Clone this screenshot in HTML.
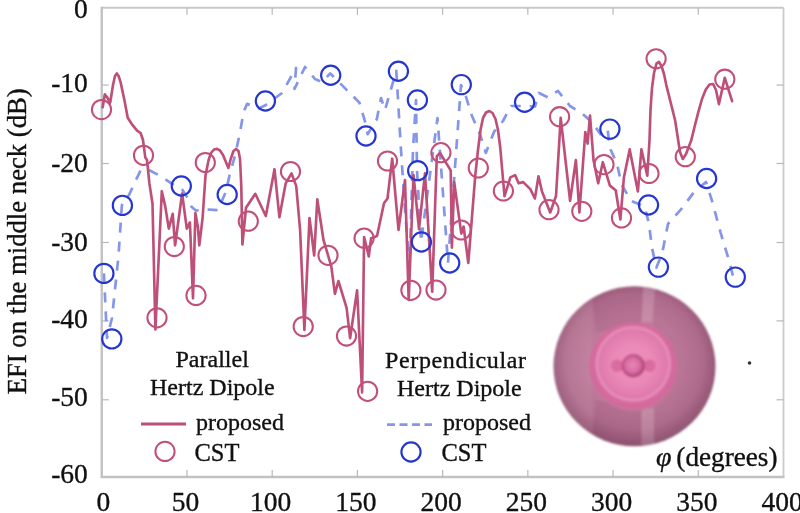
<!DOCTYPE html>
<html><head><meta charset="utf-8"><style>
html,body{margin:0;padding:0;background:#fff;}
svg{display:block;filter:blur(0.6px);}
text{stroke:#111;stroke-width:0.35px;}
</style></head><body>
<svg width="800" height="513" viewBox="0 0 800 513">
<rect width="800" height="513" fill="#fff"/>

<defs>
<radialGradient id="gOuter" cx="0.5" cy="0.47" r="0.53">
  <stop offset="0" stop-color="#c9809f"/>
  <stop offset="0.55" stop-color="#be7a99"/>
  <stop offset="0.8" stop-color="#b26f8f"/>
  <stop offset="0.92" stop-color="#9e5e7d"/>
  <stop offset="1" stop-color="#8f5a74"/>
</radialGradient>
<radialGradient id="gInner" cx="0.5" cy="0.47" r="0.52">
  <stop offset="0" stop-color="#f094c0"/>
  <stop offset="0.45" stop-color="#ea88b6"/>
  <stop offset="0.75" stop-color="#df7aac"/>
  <stop offset="0.8" stop-color="#e995bd"/>
  <stop offset="0.84" stop-color="#d76b9f"/>
  <stop offset="0.97" stop-color="#d06a9b"/>
  <stop offset="1" stop-color="#c9779e"/>
</radialGradient>
<radialGradient id="gBall" cx="0.47" cy="0.47" r="0.53">
  <stop offset="0" stop-color="#e886b4"/>
  <stop offset="0.55" stop-color="#d96fa2"/>
  <stop offset="0.85" stop-color="#bd4d83"/>
  <stop offset="1" stop-color="#ad4578"/>
</radialGradient>
<clipPath id="cpS"><ellipse cx="634.5" cy="366.3" rx="81" ry="80"/></clipPath>
<filter id="blur1" x="-10%" y="-10%" width="120%" height="120%"><feGaussianBlur stdDeviation="1.2"/></filter>
</defs>
<g filter="url(#blur1)">
<ellipse cx="634.5" cy="366.3" rx="81" ry="80" fill="url(#gOuter)"/>
<g clip-path="url(#cpS)">
<rect x="550" y="280" width="42" height="175" fill="#ffffff" opacity="0.05"/>
<path d="M591,280 L643.5,280 L641.5,322 L596,333 Z" fill="#6a2a4a" opacity="0.10"/>
<path d="M596,400 L641.5,410 L641.5,450 L592.5,450 Z" fill="#6a2a4a" opacity="0.10"/>
<path d="M643.5,280 L656,280 L652,322 L641.5,322 Z" fill="#ffffff" opacity="0.14"/>
<path d="M641.5,410 L654,408 L654,450 L641.5,450 Z" fill="#ffffff" opacity="0.14"/>
<rect x="654" y="280" width="70" height="175" fill="#6a2a4a" opacity="0.05"/>
</g>
<circle cx="633.2" cy="366.5" r="44" fill="url(#gInner)"/>
<circle cx="617.2" cy="365.8" r="6.3" fill="#db6ca1"/>
<circle cx="649.4" cy="365.8" r="6.3" fill="#db6ca1"/>
<circle cx="633.3" cy="365.8" r="11.7" fill="url(#gBall)"/>
</g>
<circle cx="749.5" cy="363" r="1.8" fill="#333"/>

<line x1="101.75" y1="7.8" x2="783.5" y2="7.8" stroke="#c8c8c8" stroke-width="2"/>
<line x1="783.5" y1="7.8" x2="783.5" y2="477.0" stroke="#cccccc" stroke-width="1.8"/>
<line x1="101.75" y1="6.8" x2="101.75" y2="478.0" stroke="#c2c2c2" stroke-width="2.4"/>
<line x1="100.75" y1="477.0" x2="784.5" y2="477.0" stroke="#c2c2c2" stroke-width="2.4"/>
<line x1="186.97" y1="477.0" x2="186.97" y2="470.0" stroke="#b8b8b8" stroke-width="1.2"/>
<line x1="186.97" y1="7.8" x2="186.97" y2="14.8" stroke="#b8b8b8" stroke-width="1.2"/>
<line x1="272.19" y1="477.0" x2="272.19" y2="470.0" stroke="#b8b8b8" stroke-width="1.2"/>
<line x1="272.19" y1="7.8" x2="272.19" y2="14.8" stroke="#b8b8b8" stroke-width="1.2"/>
<line x1="357.41" y1="477.0" x2="357.41" y2="470.0" stroke="#b8b8b8" stroke-width="1.2"/>
<line x1="357.41" y1="7.8" x2="357.41" y2="14.8" stroke="#b8b8b8" stroke-width="1.2"/>
<line x1="442.62" y1="477.0" x2="442.62" y2="470.0" stroke="#b8b8b8" stroke-width="1.2"/>
<line x1="442.62" y1="7.8" x2="442.62" y2="14.8" stroke="#b8b8b8" stroke-width="1.2"/>
<line x1="527.84" y1="477.0" x2="527.84" y2="470.0" stroke="#b8b8b8" stroke-width="1.2"/>
<line x1="527.84" y1="7.8" x2="527.84" y2="14.8" stroke="#b8b8b8" stroke-width="1.2"/>
<line x1="613.06" y1="477.0" x2="613.06" y2="470.0" stroke="#b8b8b8" stroke-width="1.2"/>
<line x1="613.06" y1="7.8" x2="613.06" y2="14.8" stroke="#b8b8b8" stroke-width="1.2"/>
<line x1="698.28" y1="477.0" x2="698.28" y2="470.0" stroke="#b8b8b8" stroke-width="1.2"/>
<line x1="698.28" y1="7.8" x2="698.28" y2="14.8" stroke="#b8b8b8" stroke-width="1.2"/>
<line x1="101.75" y1="85.06" x2="108.75" y2="85.06" stroke="#b8b8b8" stroke-width="1.2"/>
<line x1="783.5" y1="85.06" x2="776.5" y2="85.06" stroke="#b8b8b8" stroke-width="1.2"/>
<line x1="101.75" y1="163.50" x2="108.75" y2="163.50" stroke="#b8b8b8" stroke-width="1.2"/>
<line x1="783.5" y1="163.50" x2="776.5" y2="163.50" stroke="#b8b8b8" stroke-width="1.2"/>
<line x1="101.75" y1="242.50" x2="108.75" y2="242.50" stroke="#b8b8b8" stroke-width="1.2"/>
<line x1="783.5" y1="242.50" x2="776.5" y2="242.50" stroke="#b8b8b8" stroke-width="1.2"/>
<line x1="101.75" y1="320.90" x2="108.75" y2="320.90" stroke="#b8b8b8" stroke-width="1.2"/>
<line x1="783.5" y1="320.90" x2="776.5" y2="320.90" stroke="#b8b8b8" stroke-width="1.2"/>
<line x1="101.75" y1="399.80" x2="108.75" y2="399.80" stroke="#b8b8b8" stroke-width="1.2"/>
<line x1="783.5" y1="399.80" x2="776.5" y2="399.80" stroke="#b8b8b8" stroke-width="1.2"/>
<text x="87.8" y="18.1" font-family="Liberation Serif" font-size="27.5" text-anchor="end" fill="#111">0</text>
<text x="87.8" y="91.8" font-family="Liberation Serif" font-size="27.5" text-anchor="end" fill="#111">-10</text>
<text x="87.8" y="171.5" font-family="Liberation Serif" font-size="27.5" text-anchor="end" fill="#111">-20</text>
<text x="87.8" y="251.4" font-family="Liberation Serif" font-size="27.5" text-anchor="end" fill="#111">-30</text>
<text x="87.8" y="328.1" font-family="Liberation Serif" font-size="27.5" text-anchor="end" fill="#111">-40</text>
<text x="87.8" y="406.1" font-family="Liberation Serif" font-size="27.5" text-anchor="end" fill="#111">-50</text>
<text x="87.8" y="483.3" font-family="Liberation Serif" font-size="27.5" text-anchor="end" fill="#111">-60</text>
<text x="103.25" y="510.8" font-family="Liberation Serif" font-size="27.5" text-anchor="middle" fill="#111">0</text>
<text x="185.47" y="510.8" font-family="Liberation Serif" font-size="27.5" text-anchor="middle" fill="#111">50</text>
<text x="270.69" y="510.8" font-family="Liberation Serif" font-size="27.5" text-anchor="middle" fill="#111">100</text>
<text x="355.91" y="510.8" font-family="Liberation Serif" font-size="27.5" text-anchor="middle" fill="#111">150</text>
<text x="441.12" y="510.8" font-family="Liberation Serif" font-size="27.5" text-anchor="middle" fill="#111">200</text>
<text x="526.34" y="510.8" font-family="Liberation Serif" font-size="27.5" text-anchor="middle" fill="#111">250</text>
<text x="611.56" y="510.8" font-family="Liberation Serif" font-size="27.5" text-anchor="middle" fill="#111">300</text>
<text x="696.78" y="510.8" font-family="Liberation Serif" font-size="27.5" text-anchor="middle" fill="#111">350</text>
<text x="782.00" y="510.8" font-family="Liberation Serif" font-size="27.5" text-anchor="middle" fill="#111">400</text>
<text transform="translate(25.5,241.3) rotate(-90)" font-family="Liberation Serif" font-size="26.7" text-anchor="middle" fill="#111">EFI on the middle neck (dB)</text>
<text x="656" y="466.3" font-family="Liberation Serif" font-size="28" font-style="italic" fill="#111">φ</text>
<text x="777.5" y="466.3" font-family="Liberation Serif" font-size="27.2" text-anchor="end" fill="#111">(degrees)</text>

<filter id="cb" x="-5%" y="-5%" width="110%" height="110%"><feGaussianBlur stdDeviation="0.4"/></filter>
<g filter="url(#cb)">
<polyline points="103.9,273.4 107.0,338.0 112.0,318.0 118.4,257.0 121.9,205.0 129.0,195.0 135.0,182.0 140.5,170.5 142.5,169.3 147.6,169.3 161.0,176.3 172.2,183.9 182.1,189.6 188.3,199.0 191.5,206.8 196.1,210.7 202.4,209.1 213.3,209.9 217.9,210.2 226.0,191.5 229.6,175.0 235.4,154.0 240.1,131.9 243.6,112.0 247.1,103.8 258.8,108.5 265.8,105.0 282.0,93.0 296.0,68.0 294.5,89.0 305.0,67.0 315.0,79.0 322.0,82.0 330.2,73.4 345.4,88.6 359.4,102.6 365.3,122.5 367.6,134.2 376.8,119.3 381.0,98.0 385.0,110.0 396.3,70.9 401.0,150.0 405.0,210.0 409.5,268.0 413.0,150.0 416.0,100.0 417.0,170.0 421.0,242.0 437.5,118.0 448.0,263.0 461.0,85.0 466.0,96.8 471.8,115.5 480.0,134.2 485.8,152.9 494.0,131.9 503.0,121.0 511.0,106.0 525.0,106.0 535.0,106.5 539.0,93.0 548.0,97.5 551.0,95.0 558.0,91.0 570.0,106.0 581.8,113.2 592.3,122.5 600.5,134.2 607.5,128.4 609.9,148.2 616.9,163.4 621.5,184.4 630.9,200.8 644.6,206.3 649.0,223.9 651.9,247.3 656.3,267.7 662.2,253.1 668.0,223.9 681.2,209.2 694.3,191.7 706.0,182.0 711.9,200.5 720.6,232.6 729.4,261.9 733.8,279.4" fill="none" stroke="#8596e8" stroke-width="2.7" stroke-dasharray="10,9" stroke-linejoin="round"/>
<polyline points="102.7,107.3 104.8,94.4 107.0,97.0 110.2,102.6 113.0,85.0 115.0,76.0 116.8,73.4 118.6,76.0 120.7,82.7 124.2,99.1 127.7,117.8 132.4,124.9 137.1,130.7 140.6,133.0 143.0,140.0 145.3,157.6 147.0,160.0 149.4,183.4 152.5,203.7 155.4,329.5 161.8,191.2 165.2,206.1 168.8,228.6 172.7,213.8 175.1,245.3 182.1,193.5 186.8,228.6 189.9,222.4 193.0,298.3 195.4,213.0 197.9,227.2 199.3,245.3 202.6,217.8 205.5,175.6 208.6,160.0 211.0,153.0 214.0,149.5 217.0,148.9 220.0,150.5 223.0,155.0 228.4,168.0 231.0,158.0 233.5,151.0 236.0,149.0 238.5,151.0 240.0,158.7 241.3,186.8 242.4,244.5 246.0,207.8 255.3,193.8 265.8,216.0 274.5,169.2 279.4,217.2 285.7,183.3 291.5,173.4 296.2,185.9 300.1,230.0 304.4,330.0 309.5,218.0 314.2,255.5 317.3,199.4 323.5,240.0 331.3,266.4 334.9,293.8 338.4,281.0 346.6,307.8 350.1,338.2 357.1,290.3 362.1,392.4 364.1,237.0 368.8,256.4 371.1,238.2 377.0,236.0 384.0,203.2 387.5,198.5 392.2,158.7 398.5,230.0 405.0,180.0 408.7,300.0 413.5,175.0 419.0,229.0 425.0,173.4 432.2,291.6 436.8,156.2 440.0,153.0 450.7,170.4 451.9,247.6 454.2,182.1 461.3,233.6 463.6,226.5 468.3,263.0 475.3,175.1 478.0,150.0 480.5,130.0 483.0,118.0 486.0,112.5 489.3,111.0 492.5,113.0 495.5,119.0 498.0,130.0 500.3,148.0 502.2,170.0 504.5,196.1 510.4,177.4 515.1,175.1 518.6,183.3 523.2,182.1 530.3,189.1 534.9,198.5 538.5,176.3 542.0,191.5 550.2,212.5 556.0,196.0 560.7,117.8 566.6,170.0 570.1,200.8 575.9,160.0 579.4,212.5 585.3,132.0 587.6,143.6 590.0,115.5 593.5,160.0 598.2,183.3 602.8,162.2 609.9,185.6 615.7,190.3 620.4,219.5 623.9,177.4 629.7,149.4 637.9,191.5 641.4,149.4 647.3,175.7 649.5,140.0 650.5,110.0 652.0,88.0 654.0,73.0 656.5,63.5 659.0,62.0 661.5,66.0 664.0,74.0 666.3,85.1 675.1,120.2 680.0,152.0 682.8,159.0 686.0,154.0 691.2,140.6 695.0,125.0 698.5,111.4 702.0,99.0 705.8,89.5 709.5,84.5 713.1,84.0 716.0,90.0 718.9,104.1 724.8,77.8 732.1,101.2" fill="none" stroke="#bd5078" stroke-width="2.65" stroke-linejoin="round" stroke-linecap="round"/>
<circle cx="101.5" cy="109.6" r="9.6" fill="none" stroke="#c2507a" stroke-width="2.05"/>
<circle cx="143.5" cy="155.3" r="9.6" fill="none" stroke="#c2507a" stroke-width="2.05"/>
<circle cx="174.3" cy="246.5" r="9.6" fill="none" stroke="#c2507a" stroke-width="2.05"/>
<circle cx="157" cy="317.8" r="9.6" fill="none" stroke="#c2507a" stroke-width="2.05"/>
<circle cx="196" cy="295.4" r="9.6" fill="none" stroke="#c2507a" stroke-width="2.05"/>
<circle cx="205.3" cy="162.5" r="9.6" fill="none" stroke="#c2507a" stroke-width="2.05"/>
<circle cx="248.3" cy="221.2" r="9.6" fill="none" stroke="#c2507a" stroke-width="2.05"/>
<circle cx="290.5" cy="171.5" r="9.6" fill="none" stroke="#c2507a" stroke-width="2.05"/>
<circle cx="303.2" cy="326.5" r="9.6" fill="none" stroke="#c2507a" stroke-width="2.05"/>
<circle cx="328" cy="255.3" r="9.6" fill="none" stroke="#c2507a" stroke-width="2.05"/>
<circle cx="346.5" cy="336" r="9.6" fill="none" stroke="#c2507a" stroke-width="2.05"/>
<circle cx="367.6" cy="391.3" r="9.6" fill="none" stroke="#c2507a" stroke-width="2.05"/>
<circle cx="364.1" cy="238.2" r="9.6" fill="none" stroke="#c2507a" stroke-width="2.05"/>
<circle cx="387.5" cy="161" r="9.6" fill="none" stroke="#c2507a" stroke-width="2.05"/>
<circle cx="410.9" cy="290.3" r="9.6" fill="none" stroke="#c2507a" stroke-width="2.05"/>
<circle cx="436" cy="290" r="9.6" fill="none" stroke="#c2507a" stroke-width="2.05"/>
<circle cx="440.9" cy="152.7" r="9.6" fill="none" stroke="#c2507a" stroke-width="2.05"/>
<circle cx="461.2" cy="230" r="9.6" fill="none" stroke="#c2507a" stroke-width="2.05"/>
<circle cx="478.3" cy="168" r="9.6" fill="none" stroke="#c2507a" stroke-width="2.05"/>
<circle cx="503.4" cy="191" r="9.6" fill="none" stroke="#c2507a" stroke-width="2.05"/>
<circle cx="549" cy="209.7" r="9.6" fill="none" stroke="#c2507a" stroke-width="2.05"/>
<circle cx="559.6" cy="116.7" r="9.6" fill="none" stroke="#c2507a" stroke-width="2.05"/>
<circle cx="581.8" cy="211.3" r="9.6" fill="none" stroke="#c2507a" stroke-width="2.05"/>
<circle cx="604" cy="164.6" r="9.6" fill="none" stroke="#c2507a" stroke-width="2.05"/>
<circle cx="621.5" cy="217.9" r="9.6" fill="none" stroke="#c2507a" stroke-width="2.05"/>
<circle cx="649" cy="173.5" r="9.6" fill="none" stroke="#c2507a" stroke-width="2.05"/>
<circle cx="656.1" cy="58.8" r="9.6" fill="none" stroke="#c2507a" stroke-width="2.05"/>
<circle cx="685.3" cy="156.7" r="9.6" fill="none" stroke="#c2507a" stroke-width="2.05"/>
<circle cx="724.8" cy="79.2" r="9.6" fill="none" stroke="#c2507a" stroke-width="2.05"/>
<circle cx="103.9" cy="273.4" r="9.6" fill="none" stroke="#2536cf" stroke-width="2.15"/>
<circle cx="111.8" cy="338.9" r="9.6" fill="none" stroke="#2536cf" stroke-width="2.15"/>
<circle cx="122.4" cy="205.4" r="9.6" fill="none" stroke="#2536cf" stroke-width="2.15"/>
<circle cx="181.3" cy="186" r="9.6" fill="none" stroke="#2536cf" stroke-width="2.15"/>
<circle cx="227.2" cy="194.5" r="9.6" fill="none" stroke="#2536cf" stroke-width="2.15"/>
<circle cx="265.4" cy="101" r="9.6" fill="none" stroke="#2536cf" stroke-width="2.15"/>
<circle cx="330.7" cy="75.2" r="9.6" fill="none" stroke="#2536cf" stroke-width="2.15"/>
<circle cx="366" cy="136" r="9.6" fill="none" stroke="#2536cf" stroke-width="2.15"/>
<circle cx="398.4" cy="71.2" r="9.6" fill="none" stroke="#2536cf" stroke-width="2.15"/>
<circle cx="417.4" cy="100" r="9.6" fill="none" stroke="#2536cf" stroke-width="2.15"/>
<circle cx="417.7" cy="170.7" r="9.6" fill="none" stroke="#2536cf" stroke-width="2.15"/>
<circle cx="421.4" cy="242" r="9.6" fill="none" stroke="#2536cf" stroke-width="2.15"/>
<circle cx="449.7" cy="263" r="9.6" fill="none" stroke="#2536cf" stroke-width="2.15"/>
<circle cx="461.3" cy="84.6" r="9.6" fill="none" stroke="#2536cf" stroke-width="2.15"/>
<circle cx="524.6" cy="102.2" r="9.6" fill="none" stroke="#2536cf" stroke-width="2.15"/>
<circle cx="609.9" cy="129.1" r="9.6" fill="none" stroke="#2536cf" stroke-width="2.15"/>
<circle cx="648.5" cy="205" r="9.6" fill="none" stroke="#2536cf" stroke-width="2.15"/>
<circle cx="658.4" cy="267.1" r="9.6" fill="none" stroke="#2536cf" stroke-width="2.15"/>
<circle cx="706.6" cy="178.5" r="9.6" fill="none" stroke="#2536cf" stroke-width="2.15"/>
<circle cx="735.3" cy="277.1" r="9.6" fill="none" stroke="#2536cf" stroke-width="2.15"/>
</g>

<text x="175.5" y="366.6" font-family="Liberation Serif" font-size="24" fill="#111">Parallel</text>
<text x="150" y="395.2" font-family="Liberation Serif" font-size="24" fill="#111">Hertz Dipole</text>
<line x1="141" y1="424" x2="186" y2="424" stroke="#bd5078" stroke-width="2.8"/>
<text x="196" y="429.5" font-family="Liberation Serif" font-size="24" fill="#111">proposed</text>
<circle cx="165" cy="451.4" r="9.6" fill="none" stroke="#c2507a" stroke-width="2.05"/>
<text x="194.5" y="460.6" font-family="Liberation Serif" font-size="24.5" fill="#111">CST</text>
<text x="385" y="368" font-family="Liberation Serif" font-size="24" fill="#111" textLength="141" lengthAdjust="spacing">Perpendicular</text>
<text x="397" y="396.3" font-family="Liberation Serif" font-size="24" fill="#111">Hertz Dipole</text>
<line x1="387" y1="424.7" x2="432" y2="424.7" stroke="#8596e8" stroke-width="2.8" stroke-dasharray="8,4.5"/>
<text x="443" y="429.5" font-family="Liberation Serif" font-size="24" fill="#111">proposed</text>
<circle cx="411" cy="452" r="9.6" fill="none" stroke="#2536cf" stroke-width="2.15"/>
<text x="441.5" y="460.8" font-family="Liberation Serif" font-size="24.5" fill="#111">CST</text>

</svg>
</body></html>
